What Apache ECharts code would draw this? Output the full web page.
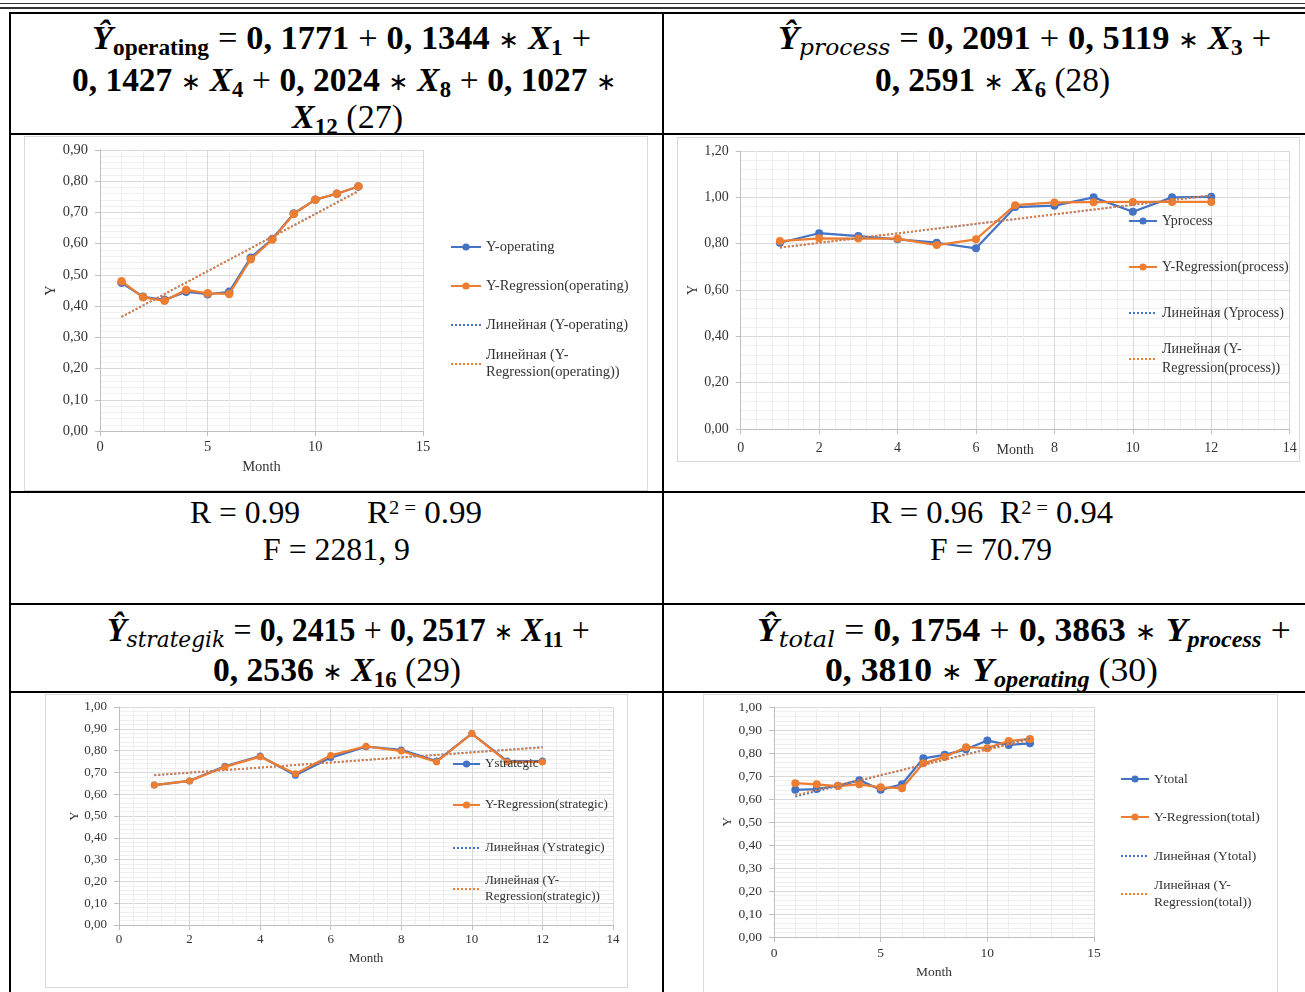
<!DOCTYPE html>
<html><head><meta charset="utf-8">
<script src="https://cdn.jsdelivr.net/npm/echarts@6/dist/echarts.min.js"></script>
<style>
body{margin:0;width:1305px;height:992px;overflow:hidden;background:#fff;position:relative;font-family:'Liberation Serif',serif;}
.ln{position:absolute;background:#000;}
.t{position:absolute;white-space:nowrap;font-size:34px;line-height:40px;color:#000;transform-origin:0 50%;}
.r{position:absolute;white-space:nowrap;font-size:32px;line-height:36px;color:#000;transform-origin:0 50%;}
.b{font-weight:bold}
.bi{font-weight:bold;font-style:italic}
.it{font-style:italic;font-family:'DejaVu Serif',serif;font-weight:normal}
.sub{font-size:0.68em;position:relative;top:0.28em}
.sup{font-size:0.62em;position:relative;top:-0.45em}
.op{margin:0 0.26em}
.as{font-family:'DejaVu Sans',sans-serif;font-size:0.72em;margin:0 0.36em;position:relative;top:-0.06em}
.frame{position:absolute;border:1px solid #d9d9d9;background:#fff;box-sizing:border-box}
.frame>div{position:absolute;left:0;top:0;right:0;bottom:0}
</style></head>
<body>
<!-- top double rule -->
<div class="ln" style="left:0;top:3px;width:1305px;height:1px;background:#333"></div>
<div class="ln" style="left:0;top:7px;width:1305px;height:2px;background:#333"></div>
<!-- table grid -->
<div class="ln" style="left:9px;top:12px;width:1296px;height:2px"></div>
<div class="ln" style="left:9px;top:133px;width:1296px;height:2px"></div>
<div class="ln" style="left:9px;top:491px;width:1296px;height:2px"></div>
<div class="ln" style="left:9px;top:603px;width:1296px;height:2px"></div>
<div class="ln" style="left:9px;top:691px;width:1296px;height:2px"></div>
<div class="ln" style="left:9px;top:12px;width:2px;height:980px"></div>
<div class="ln" style="left:662px;top:12px;width:2px;height:980px"></div>

<!-- formulas (data-w = width of the line in the reference) -->
<div class="t" data-w="508" style="left:92px;top:18px"><span class="bi">Ŷ</span><span class="sub b">operating</span><span class="op">=</span><b>0, 1771</b><span class="op">+</span><b>0, 1344</b><span class="as">∗</span><span class="bi">X</span><span class="sub b">1</span><span class="op">+</span></div>
<div class="t" data-w="553" style="left:72px;top:60px"><b>0, 1427</b><span class="as">∗</span><span class="bi">X</span><span class="sub b">4</span><span class="op">+</span><b>0, 2024</b><span class="as">∗</span><span class="bi">X</span><span class="sub b">8</span><span class="op">+</span><b>0, 1027</b><span class="as">∗</span></div>
<div class="t" data-w="111" style="left:292px;top:97px"><span class="bi">X</span><span class="sub b">12</span> (27)</div>

<div class="t" data-w="502" style="left:778px;top:18px"><span class="bi">Ŷ</span><span class="sub it">process</span><span class="op">=</span><b>0, 2091</b><span class="op">+</span><b>0, 5119</b><span class="as">∗</span><span class="bi">X</span><span class="sub b">3</span><span class="op">+</span></div>
<div class="t" data-w="235" style="left:875px;top:60px"><b>0, 2591</b><span class="as">∗</span><span class="bi">X</span><span class="sub b">6</span> (28)</div>

<div class="r" data-w="110" style="left:190px;top:494px">R = 0.99</div>
<div class="r" data-w="115" style="left:367px;top:494px">R<span class="sup">2 =</span> 0.99</div>
<div class="r" data-w="147" style="left:263px;top:531px">F = 2281, 9</div>
<div class="r" data-w="243" style="left:870px;top:494px">R = 0.96&nbsp; R<span class="sup">2 =</span> 0.94</div>
<div class="r" data-w="122" style="left:930px;top:531px">F = 70.79</div>

<div class="t" data-w="491" style="left:107px;top:610px"><span class="bi">Ŷ</span><span class="sub it">strategik</span><span class="op">=</span><b>0, 2415</b><span class="op">+</span><b>0, 2517</b><span class="as">∗</span><span class="bi">X</span><span class="sub b">11</span><span class="op">+</span></div>
<div class="t" data-w="248" style="left:213px;top:650px"><b>0, 2536</b><span class="as">∗</span><span class="bi">X</span><span class="sub b">16</span> (29)</div>

<div class="t" data-w="543" style="left:757px;top:610px"><span class="bi">Ŷ</span><span class="sub it">total</span><span class="op">=</span><b>0, 1754</b><span class="op">+</span><b>0, 3863</b><span class="as">∗</span><span class="bi">Y</span><span class="sub bi">process</span><span class="op">+</span></div>
<div class="t" data-w="333" style="left:825px;top:650px"><b>0, 3810</b><span class="as">∗</span><span class="bi">Y</span><span class="sub bi">operating</span> (30)</div>

<!-- chart frames -->
<div class="frame" style="left:24px;top:136px;width:624px;height:355px"><div id="c1"></div></div>
<div class="frame" style="left:677px;top:137px;width:623px;height:325px"><div id="c2"></div></div>
<div class="frame" style="left:45px;top:694px;width:583px;height:294px"><div id="c3"></div></div>
<div class="frame" style="left:703px;top:694px;width:575px;height:300px"><div id="c4"></div></div>

<script>
// ---------- data ----------
const months = [1, 2, 3, 4, 5, 6, 7, 8, 9, 10, 11, 12];

const yOperating    = [0.475, 0.430, 0.420, 0.446, 0.438, 0.446, 0.555, 0.615, 0.697, 0.741, 0.760, 0.783];
const yRegOperating = [0.480, 0.428, 0.417, 0.452, 0.441, 0.439, 0.550, 0.613, 0.695, 0.741, 0.760, 0.783];

const yProcess      = [0.804, 0.845, 0.833, 0.819, 0.804, 0.780, 0.958, 0.964, 1.000, 0.938, 1.000, 1.002];
const yRegProcess   = [0.811, 0.823, 0.822, 0.822, 0.794, 0.819, 0.966, 0.978, 0.979, 0.980, 0.980, 0.980];

const yStrategic    = [0.642, 0.661, 0.728, 0.775, 0.687, 0.768, 0.818, 0.803, 0.752, 0.878, 0.752, 0.752];
const yRegStrategic = [0.642, 0.661, 0.725, 0.772, 0.694, 0.778, 0.820, 0.798, 0.748, 0.878, 0.748, 0.748];

const yTotal        = [0.640, 0.643, 0.658, 0.682, 0.640, 0.664, 0.777, 0.792, 0.816, 0.854, 0.835, 0.842];
const yRegTotal     = [0.669, 0.664, 0.656, 0.664, 0.651, 0.647, 0.755, 0.783, 0.825, 0.821, 0.852, 0.861];

const namesOperating = ['Y-operating', 'Y-Regression(operating)', 'Линейная (Y-operating)', 'Линейная (Y-Regression(operating))'];
const namesProcess   = ['Yprocess', 'Y-Regression(process)', 'Линейная (Yprocess)', 'Линейная (Y-Regression(process))'];
const namesStrategic = ['Ystrategic', 'Y-Regression(strategic)', 'Линейная (Ystrategic)', 'Линейная (Y-Regression(strategic))'];
const namesTotal     = ['Ytotal', 'Y-Regression(total)', 'Линейная (Ytotal)', 'Линейная (Y-Regression(total))'];

// ---------- style ----------
const BLUE = '#4472C4', ORANGE = '#ED7D31', FONT = 'Liberation Serif';

// Excel linear trendline (least squares over the plotted points)
function trend(xs, ys) {
  const n = xs.length;
  const mx = xs.reduce((a, b) => a + b, 0) / n, my = ys.reduce((a, b) => a + b, 0) / n;
  let sxy = 0, sxx = 0;
  for (let i = 0; i < n; i++) { sxy += (xs[i] - mx) * (ys[i] - my); sxx += (xs[i] - mx) * (xs[i] - mx); }
  const b = sxy / sxx, a = my - b * mx;
  const x0 = Math.min(...xs), x1 = Math.max(...xs);
  return [[x0, a + b * x0], [x1, a + b * x1]];
}
const pairs = (ys) => months.map((m, i) => [m, ys[i]]);

function build(id, c) {
  const chart = echarts.init(document.getElementById(id), null, {renderer: 'canvas'});
  const [n1, n2, n3, n4] = c.names;
  const solid = (name, ys, col, z) => ({
    name, type: 'line', data: pairs(ys), symbol: 'circle', symbolSize: c.sym,
    lineStyle: {width: 2.25, color: col}, itemStyle: {color: col}, z, silent: true
  });
  const dotted = (name, ys, col, z) => ({
    name, type: 'line', data: trend(months, ys), symbol: 'none',
    lineStyle: {width: 1.8, color: col, type: [2, 2]}, itemStyle: {color: col}, z, silent: true
  });
  const legends = c.names.map((nm, i) => {
    const two = i === 3;
    const top = two ? c.legCy[i] - c.oy - 1.5 * c.L : c.legCy[i] - c.oy - c.L / 2;
    const item = {name: nm};
    if (two) item.textStyle = {padding: [c.L, 0, 0, 0]};
    if (i >= 2) item.itemStyle = {opacity: 0};
    return {
      left: c.legX - c.ox, top, orient: 'vertical', padding: 0, itemGap: 0,
      itemWidth: c.legW, itemHeight: 9, selectedMode: false, data: [item],
      textStyle: {fontFamily: FONT, fontSize: c.fs, color: '#333', lineHeight: c.L},
      formatter: two ? (s => s.replace('(Y-', '(Y-\n')) : undefined
    };
  });
  const axLine = {show: true, onZero: false, lineStyle: {color: '#bfbfbf', width: 1}};
  const tick = {show: true, length: 5, lineStyle: {color: '#bfbfbf'}};
  chart.setOption({
    animation: false,
    backgroundColor: '#fff',
    grid: {left: c.grid[0], top: c.grid[1], width: c.grid[2], height: c.grid[3],
      containLabel: false, outerBoundsMode: 'none'},
    legend: legends,
    xAxis: {
      type: 'value', min: 0, max: c.xMax, interval: c.xInt,
      axisLine: axLine, axisTick: tick,
      axisLabel: {color: '#333', fontFamily: FONT, fontSize: c.fs, margin: c.xLabM},
      splitLine: {show: true, lineStyle: {color: '#d9d9d9'}},
      minorTick: {show: false, splitNumber: 5},
      minorSplitLine: {show: true, lineStyle: {color: '#efefef'}},
      name: 'Month', nameLocation: 'middle', nameGap: c.xNameGap, nameMoveOverlap: false,
      nameTextStyle: {color: '#333', fontFamily: FONT, fontSize: c.fs}
    },
    yAxis: {
      type: 'value', min: 0, max: c.yMax, interval: c.yInt,
      axisLine: axLine, axisTick: tick,
      axisLabel: {color: '#333', fontFamily: FONT, fontSize: c.fs, margin: 12,
        formatter: v => v.toFixed(2).replace('.', ',')},
      splitLine: {show: true, lineStyle: {color: '#d9d9d9'}},
      minorTick: {show: false, splitNumber: 5},
      minorSplitLine: {show: true, lineStyle: {color: '#efefef'}},
      name: 'Y', nameLocation: 'middle', nameGap: c.yNameGap, nameRotate: 90, nameMoveOverlap: false,
      nameTextStyle: {color: '#333', fontFamily: FONT, fontSize: c.fs}
    },
    series: [
      solid(n1, c.blue, BLUE, 2),
      solid(n2, c.orange, ORANGE, 3),
      dotted(n3, c.blue, BLUE, 4),
      dotted(n4, c.orange, ORANGE, 5)
    ]
  });
}

build('c1', {names: namesOperating, blue: yOperating, orange: yRegOperating,
  ox: 25, oy: 137, grid: [75, 13, 323, 281], xMax: 15, xInt: 5, yMax: 0.9, yInt: 0.1,
  fs: 14.5, sym: 8.5, L: 17, legX: 450, legW: 30, legCy: [247, 286, 325, 364],
  xLabM: 9, xNameGap: 29, yNameGap: 41});

build('c2', {names: namesProcess, blue: yProcess, orange: yRegProcess,
  ox: 678, oy: 138, grid: [62.7, 13, 549, 278], xMax: 14, xInt: 2, yMax: 1.2, yInt: 0.2,
  fs: 14, sym: 8, L: 19, legX: 1128, legW: 28, legCy: [221, 267, 313, 359],
  xLabM: 12, xNameGap: 14, yNameGap: 40});

build('c3', {names: namesStrategic, blue: yStrategic, orange: yRegStrategic,
  ox: 46, oy: 695, grid: [73, 12, 494, 218], xMax: 14, xInt: 2, yMax: 1.0, yInt: 0.1,
  fs: 13, sym: 7, L: 16, legX: 452, legW: 27, legCy: [764, 805, 848, 889],
  xLabM: 8, xNameGap: 27, yNameGap: 38});

build('c4', {names: namesTotal, blue: yTotal, orange: yRegTotal,
  ox: 704, oy: 695, grid: [70, 12, 320, 230], xMax: 15, xInt: 5, yMax: 1.0, yInt: 0.1,
  fs: 13.5, sym: 8, L: 17, legX: 1120, legW: 28, legCy: [779, 817, 856, 894],
  xLabM: 9, xNameGap: 28, yNameGap: 40});

// fit each text line to the width it has in the reference
function fitLines() {
  document.querySelectorAll('[data-w]').forEach(el => {
    el.style.transform = 'none';
    const w = el.getBoundingClientRect().width;
    const target = +el.dataset.w;
    if (w > 0) el.style.transform = 'scaleX(' + (target / w).toFixed(4) + ')';
  });
}
fitLines();
if (document.fonts && document.fonts.ready) document.fonts.ready.then(fitLines);
</script>
</body></html>
